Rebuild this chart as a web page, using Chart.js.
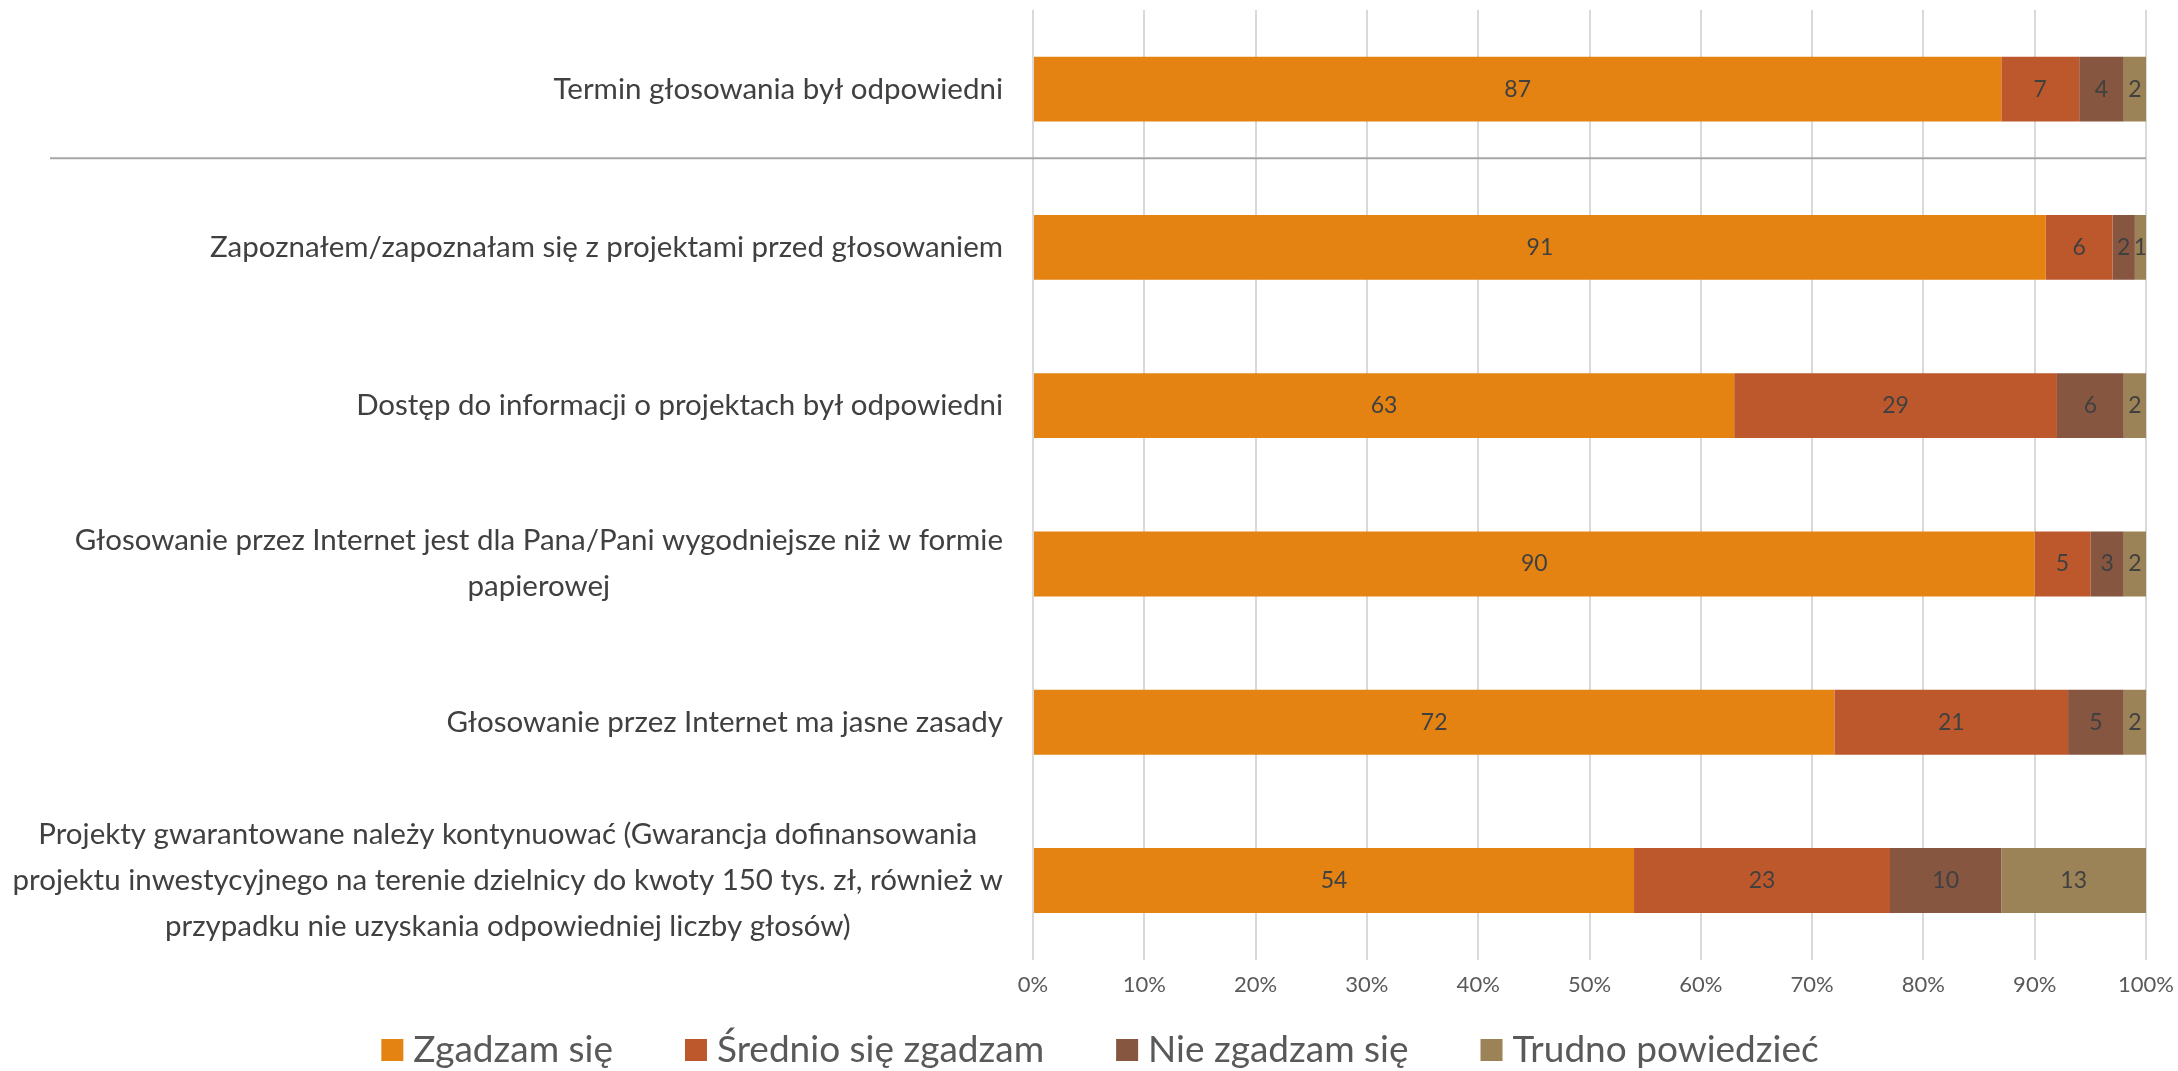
<!DOCTYPE html>
<html lang="pl">
<head>
<meta charset="utf-8">
<title>Ocena głosowania</title>
<script src="https://cdn.jsdelivr.net/npm/chart.js@4.4.1/dist/chart.umd.min.js"></script>
<style>
    html, body { margin: 0; padding: 0; background: #ffffff; }
    #wrap { width: 2178px; height: 1071px; }
</style>
</head>
<body>
<div id="wrap"><canvas id="chart" width="2178" height="1071"></canvas></div>
<script>
// Category labels (lines as in the original wrapping)
const categories = [
    ['Termin głosowania był odpowiedni'],
    ['Zapoznałem/zapoznałam się z projektami przed głosowaniem'],
    ['Dostęp do informacji o projektach był odpowiedni'],
    ['Głosowanie przez Internet jest dla Pana/Pani wygodniejsze niż w formie', 'papierowej'],
    ['Głosowanie przez Internet ma jasne zasady'],
    ['Projekty gwarantowane należy kontynuować (Gwarancja dofinansowania',
     'projektu inwestycyjnego na terenie dzielnicy do kwoty 150 tys. zł, również w',
     'przypadku nie uzyskania odpowiedniej liczby głosów)']
];

// Series values (%)
const zgadzam = [87, 91, 63, 90, 72, 54];
const srednio = [7, 6, 29, 5, 21, 23];
const nieZgadzam = [4, 2, 6, 3, 5, 10];
const trudno = [2, 1, 2, 2, 2, 13];

const seriesNames = ['Zgadzam się', 'Średnio się zgadzam', 'Nie zgadzam się', 'Trudno powiedzieć'];
const seriesColors = ['#E48312', '#BD582C', '#865640', '#9B8357'];
const tickValues = [0, 10, 20, 30, 40, 50, 60, 70, 80, 90, 100];

const FONT = 'Lato, "Open Sans", sans-serif';

// Draws the numbers inside each segment
const segmentLabels = {
    id: 'segmentLabels',
    afterDatasetsDraw(chart) {
        const ctx = chart.ctx;
        ctx.save();
        ctx.font = '23px ' + FONT;
        ctx.fillStyle = '#404040';
        ctx.textAlign = 'center';
        ctx.textBaseline = 'middle';
        chart.data.datasets.forEach((ds, i) => {
            const meta = chart.getDatasetMeta(i);
            meta.data.forEach((bar, j) => {
                const v = ds.data[j];
                if (!v) return;
                ctx.fillText(String(v), (bar.x + bar.base) / 2, bar.y);
            });
        });
        ctx.restore();
    }
};

// Draws the category text (lines centred inside a right-aligned block),
// the separator line under the first row and the legend
const categoryText = {
    id: 'categoryText',
    afterDraw(chart) {
        const ctx = chart.ctx;
        const y = chart.scales.y;
        const right = chart.chartArea.left - 30;
        const lineH = 46;
        ctx.save();
        ctx.font = '29.5px ' + FONT;
        ctx.fillStyle = '#404040';
        ctx.textAlign = 'center';
        ctx.textBaseline = 'middle';
        categories.forEach((lines, i) => {
            const cy = y.getPixelForTick(i);
            const maxW = Math.max(...lines.map(l => ctx.measureText(l).width));
            const cx = right - maxW / 2;
            const top = cy - (lines.length - 1) * lineH / 2;
            lines.forEach((l, k) => ctx.fillText(l, cx, top + k * lineH));
        });

        // separator between first and second row
        const sepY = (y.getPixelForTick(0) + y.getPixelForTick(1)) / 2 - 10;
        ctx.strokeStyle = '#a6a6a6';
        ctx.lineWidth = 2;
        ctx.beginPath();
        ctx.moveTo(50, sepY);
        ctx.lineTo(chart.chartArea.right, sepY);
        ctx.stroke();

        // legend
        const box = 22, gap = 10, spacing = 72;
        ctx.font = '37px ' + FONT;
        ctx.textAlign = 'left';
        const items = chart.data.datasets.map(ds => ({
            text: ds.label,
            color: ds.backgroundColor,
            w: ctx.measureText(ds.label).width
        }));
        const total = items.reduce((s, it) => s + box + gap + it.w, 0) + spacing * (items.length - 1);
        let x = 1100 - total / 2;
        const ly = 1050;
        items.forEach(it => {
            ctx.fillStyle = it.color;
            ctx.fillRect(x, ly - box / 2, box, box);
            ctx.fillStyle = '#595959';
            ctx.fillText(it.text, x + box + gap, ly);
            x += box + gap + it.w + spacing;
        });
        ctx.restore();
    }
};

const datasets = [zgadzam, srednio, nieZgadzam, trudno].map((data, i) => ({
    label: seriesNames[i],
    data: data,
    backgroundColor: seriesColors[i],
    borderWidth: 0,
    barPercentage: 0.41,
    categoryPercentage: 1.0
}));

new Chart(document.getElementById('chart'), {
    type: 'bar',
    data: {
        labels: categories.map(c => c.join(' ')),
        datasets: datasets
    },
    options: {
        indexAxis: 'y',
        responsive: false,
        animation: false,
        devicePixelRatio: 1,
        layout: {
            padding: { top: 10, right: 32, bottom: 61, left: 0 }
        },
        scales: {
            x: {
                stacked: true,
                min: 0,
                max: 100,
                afterBuildTicks: (scale) => {
                    scale.ticks = tickValues.map(v => ({ value: v }));
                },
                afterFit: (scale) => {
                    scale.paddingLeft = 0;
                    scale.paddingRight = 0;
                },
                ticks: {
                    callback: (v) => v + '%',
                    color: '#595959',
                    font: { family: FONT, size: 22 },
                    padding: 12,
                    maxRotation: 0
                },
                grid: {
                    color: '#d9d9d9',
                    lineWidth: 2,
                    drawTicks: false
                },
                border: { display: false }
            },
            y: {
                stacked: true,
                ticks: { display: false },
                grid: { display: false },
                border: { display: false },
                afterFit: (scale) => { scale.width = 1033; }
            }
        },
        plugins: {
            legend: { display: false },
            tooltip: { enabled: false }
        }
    },
    plugins: [segmentLabels, categoryText]
});
</script>
</body>
</html>
